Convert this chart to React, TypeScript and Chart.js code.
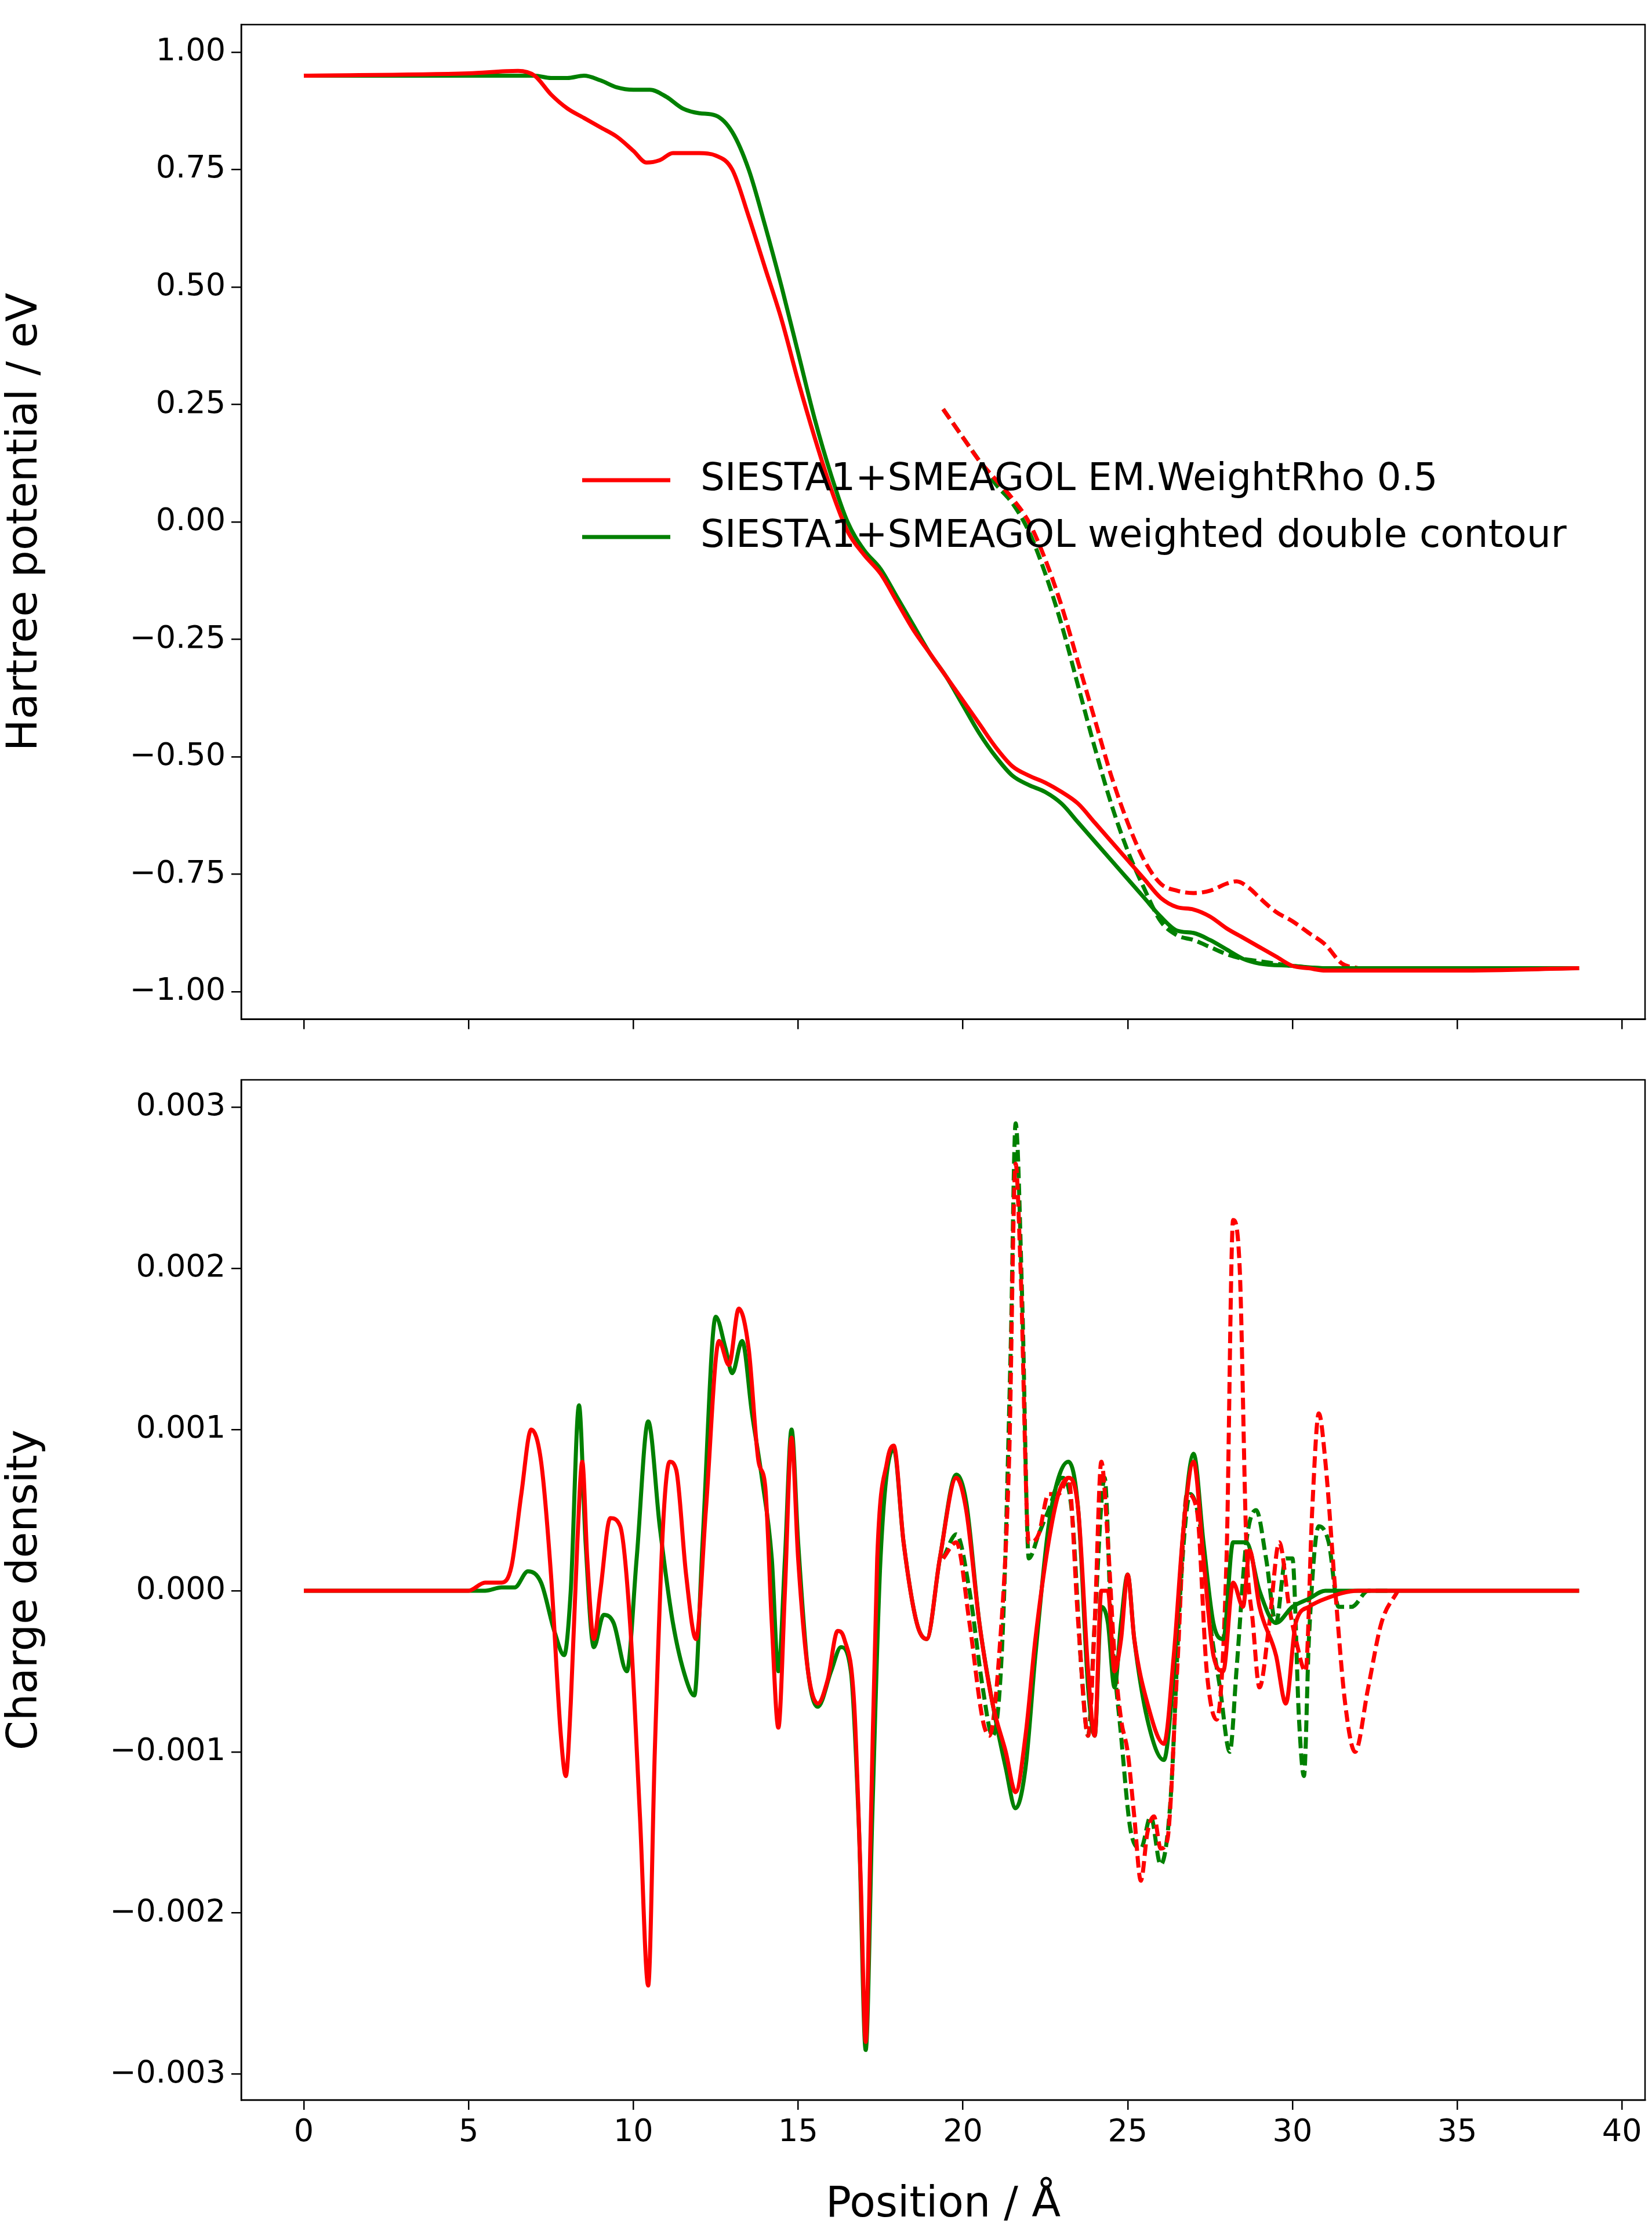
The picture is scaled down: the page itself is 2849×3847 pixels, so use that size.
import React, { useEffect, useRef } from "react";
import { Chart, registerables } from "chart.js";
Chart.register(...registerables);

type P = { x: number; y: number };
const mk = (a: number[][], s = 1): P[] => a.map(([x, y]) => ({ x, y: y * s }));

// Hartree potential (eV)
const redSolidTop = [[0,0.95],[5,0.955],[6.5,0.96],[7,0.95],[7.5,0.91],[8,0.88],[8.5,0.86],[9,0.84],[9.5,0.82],[10,0.79],[10.4,0.765],[10.8,0.77],[11.2,0.785],[12,0.785],[12.5,0.78],[13,0.75],[13.5,0.65],[14,0.54],[14.5,0.43],[15,0.3],[15.5,0.18],[16,0.07],[16.5,-0.02],[17,-0.07],[17.5,-0.11],[18,-0.17],[18.5,-0.23],[19,-0.28],[19.5,-0.33],[20,-0.38],[20.5,-0.43],[21,-0.48],[21.5,-0.52],[22,-0.54],[22.5,-0.555],[23,-0.575],[23.5,-0.6],[24,-0.64],[24.5,-0.68],[25,-0.72],[25.5,-0.76],[26,-0.8],[26.5,-0.82],[27,-0.825],[27.5,-0.84],[28,-0.865],[28.5,-0.885],[29,-0.905],[29.5,-0.925],[30,-0.945],[30.5,-0.95],[31,-0.955],[35,-0.955],[38.7,-0.95]];
const greenSolidTop = [[0,0.95],[7,0.95],[7.5,0.945],[8,0.945],[8.5,0.95],[9,0.94],[9.5,0.925],[10,0.92],[10.5,0.92],[11,0.905],[11.5,0.88],[12,0.87],[12.5,0.865],[13,0.83],[13.5,0.75],[14,0.63],[14.5,0.5],[15,0.36],[15.5,0.22],[16,0.1],[16.5,0],[17,-0.06],[17.5,-0.1],[18,-0.16],[18.5,-0.22],[19,-0.28],[19.5,-0.33],[20,-0.39],[20.5,-0.45],[21,-0.5],[21.5,-0.54],[22,-0.56],[22.5,-0.575],[23,-0.6],[23.5,-0.64],[24,-0.68],[24.5,-0.72],[25,-0.76],[25.5,-0.8],[26,-0.84],[26.5,-0.87],[27,-0.875],[27.5,-0.89],[28,-0.91],[28.5,-0.93],[29,-0.94],[30,-0.945],[31,-0.95],[38.7,-0.95]];
const redDashTop = [[19.4,0.24],[20,0.18],[20.5,0.13],[21,0.09],[21.5,0.05],[22,0],[22.5,-0.08],[23,-0.18],[23.5,-0.3],[24,-0.42],[24.5,-0.54],[25,-0.64],[25.5,-0.72],[26,-0.77],[26.5,-0.785],[27,-0.79],[27.5,-0.785],[28,-0.77],[28.3,-0.765],[28.7,-0.78],[29,-0.8],[29.5,-0.83],[30,-0.85],[30.5,-0.875],[31,-0.9],[31.5,-0.94],[32,-0.95]];
const greenDashTop = [[19.4,0.24],[20,0.18],[20.5,0.13],[21,0.08],[21.5,0.04],[22,-0.02],[22.5,-0.11],[23,-0.22],[23.5,-0.35],[24,-0.48],[24.5,-0.6],[25,-0.7],[25.5,-0.78],[26,-0.85],[26.5,-0.88],[27,-0.89],[27.5,-0.905],[28,-0.92],[28.5,-0.93],[29,-0.935],[30,-0.945],[31,-0.95],[32,-0.95]];

// Charge density (x 0.001)
const redSolidBot = [[0,0],[5,0],[5.5,0.05],[6,0.05],[6.3,0.15],[6.6,0.6],[6.9,1.0],[7.2,0.8],[7.5,0.1],[7.8,-0.9],[7.95,-1.15],[8.1,-0.7],[8.3,0.3],[8.45,0.8],[8.6,0.2],[8.8,-0.3],[9,0],[9.3,0.45],[9.6,0.4],[9.9,-0.2],[10.2,-1.4],[10.45,-2.45],[10.65,-1.0],[10.9,0.4],[11.1,0.8],[11.3,0.75],[11.6,0.1],[11.9,-0.3],[12.2,0.5],[12.6,1.55],[12.9,1.4],[13.2,1.75],[13.5,1.5],[13.8,0.8],[14,0.65],[14.2,-0.2],[14.4,-0.85],[14.6,0],[14.8,0.95],[15,0.2],[15.3,-0.5],[15.6,-0.7],[15.9,-0.55],[16.2,-0.25],[16.4,-0.3],[16.7,-0.7],[16.9,-1.8],[17.05,-2.8],[17.2,-1.5],[17.4,0.2],[17.7,0.8],[17.9,0.9],[18.2,0.3],[18.6,-0.2],[18.9,-0.3],[19.3,0.2],[19.8,0.7],[20.1,0.5],[20.5,-0.2],[20.9,-0.7],[21.3,-1.0],[21.6,-1.25],[21.9,-0.9],[22.2,-0.3],[22.6,0.3],[22.9,0.6],[23.2,0.7],[23.5,0.5],[23.8,-0.5],[24,-0.9],[24.2,0],[24.4,0],[24.6,-0.5],[24.8,-0.3],[25,0.1],[25.2,-0.3],[25.6,-0.7],[26.1,-0.95],[26.4,-0.4],[26.7,0.4],[27,0.8],[27.3,0.2],[27.6,-0.4],[27.9,-0.5],[28.2,0.05],[28.5,-0.1],[28.7,0.25],[29,-0.1],[29.5,-0.4],[29.8,-0.7],[30.1,-0.2],[30.5,-0.1],[31,-0.05],[32,0],[38.7,0]];
const greenSolidBot = [[0,0],[5.5,0],[6,0.02],[6.4,0.02],[6.8,0.12],[7.2,0.05],[7.6,-0.25],[7.9,-0.4],[8.1,0],[8.35,1.15],[8.55,0.3],[8.8,-0.35],[9.1,-0.15],[9.4,-0.2],[9.8,-0.5],[10.1,0.2],[10.45,1.05],[10.8,0.4],[11.2,-0.2],[11.6,-0.55],[11.85,-0.65],[12.1,0.3],[12.5,1.7],[12.8,1.5],[13,1.35],[13.3,1.55],[13.6,1.1],[13.9,0.7],[14.2,0.2],[14.4,-0.5],[14.6,0.2],[14.8,1.0],[15,0.3],[15.3,-0.5],[15.6,-0.72],[16,-0.5],[16.3,-0.35],[16.6,-0.5],[16.85,-1.5],[17.05,-2.85],[17.25,-1.4],[17.5,0.2],[17.9,0.88],[18.2,0.3],[18.6,-0.2],[18.9,-0.3],[19.3,0.2],[19.8,0.72],[20.1,0.55],[20.5,-0.2],[20.9,-0.7],[21.3,-1.1],[21.6,-1.35],[21.9,-1.1],[22.2,-0.4],[22.6,0.4],[22.9,0.7],[23.2,0.8],[23.5,0.5],[23.8,-0.6],[24,-0.9],[24.2,-0.1],[24.4,-0.2],[24.6,-0.6],[24.8,-0.2],[25,0.1],[25.2,-0.3],[25.6,-0.8],[26.1,-1.05],[26.4,-0.5],[26.7,0.4],[27,0.85],[27.3,0.3],[27.6,-0.2],[27.9,-0.3],[28.2,0.3],[28.6,0.3],[29,0],[29.5,-0.2],[30,-0.1],[30.5,-0.05],[31,0],[38.7,0]];
const redDashBot = [[19.4,0.2],[19.8,0.3],[20.2,-0.2],[20.6,-0.8],[20.8,-0.9],[21.1,-0.4],[21.4,0.8],[21.6,2.65],[21.75,2.0],[22,0.3],[22.3,0.35],[22.6,0.6],[22.9,0.6],[23.2,0.7],[23.5,-0.2],[23.8,-0.9],[24,-0.2],[24.2,0.8],[24.4,0.3],[24.6,-0.4],[24.8,-0.8],[25,-1.0],[25.2,-1.4],[25.4,-1.8],[25.6,-1.5],[25.8,-1.4],[26,-1.6],[26.2,-1.55],[26.5,-0.5],[26.8,0.6],[27.1,0.5],[27.4,-0.5],[27.7,-0.8],[28,0.2],[28.2,2.3],[28.4,2.0],[28.6,0.3],[28.8,-0.2],[29,-0.6],[29.3,-0.2],[29.6,0.3],[29.9,-0.1],[30.1,-0.3],[30.4,-0.5],[30.6,0.5],[30.8,1.1],[31,0.8],[31.3,0],[31.6,-0.7],[31.9,-1.0],[32.3,-0.6],[32.7,-0.2],[33.2,0]];
const greenDashBot = [[19.4,0.2],[19.8,0.35],[20.2,0],[20.6,-0.6],[20.9,-0.9],[21.2,-0.3],[21.45,1.5],[21.6,2.9],[21.8,1.8],[22,0.2],[22.3,0.35],[22.6,0.5],[23,0.7],[23.3,0.5],[23.6,-0.5],[23.8,-0.9],[24,-0.2],[24.3,0.7],[24.5,-0.2],[24.8,-0.9],[25.1,-1.5],[25.4,-1.6],[25.7,-1.4],[26,-1.7],[26.3,-1.3],[26.6,0],[26.9,0.6],[27.2,0.4],[27.5,-0.2],[27.8,-0.6],[28.1,-1.0],[28.3,-0.5],[28.6,0.3],[28.9,0.5],[29.2,0.2],[29.5,-0.2],[29.8,0.2],[30,0.2],[30.2,-0.8],[30.35,-1.15],[30.5,-0.3],[30.8,0.4],[31.1,0.3],[31.4,-0.1],[31.8,-0.1],[32.3,0],[33,0]];

const legendLabels = ["SIESTA1+SMEAGOL EM.WeightRho 0.5", "SIESTA1+SMEAGOL weighted double contour"];
const RED = "#ff0000", GREEN = "#008000";
const FONT = "'DejaVu Sans'";
const minus = (s: string) => s.replace("-", "\u2212");

const frame = {
  id: "frame",
  afterDraw(c: any) {
    const { ctx, chartArea: a } = c;
    ctx.save(); ctx.strokeStyle = "#000"; ctx.lineWidth = 2.5;
    ctx.strokeRect(a.left, a.top, a.right - a.left, a.bottom - a.top);
    ctx.restore();
  },
};
const legendPlugin = {
  id: "leg",
  afterDraw(c: any) {
    const ctx = c.ctx;
    ctx.save();
    ctx.font = `66px ${FONT}`; ctx.textBaseline = "middle"; ctx.fillStyle = "#000";
    [[RED, 828], [GREEN, 926]].forEach(([col, y], i) => {
      ctx.strokeStyle = col as string; ctx.lineWidth = 7;
      ctx.beginPath(); ctx.moveTo(1004, y as number); ctx.lineTo(1156, y as number); ctx.stroke();
      ctx.fillText(legendLabels[i], 1208, y as number);
    });
    ctx.restore();
  },
};

const ds = (d: P[], col: string, dash: boolean) => ({
  data: d, borderColor: col, borderWidth: 7, pointRadius: 0, fill: false,
  cubicInterpolationMode: "monotone" as const, borderDash: dash ? [20, 9] : [],
});

function opts(yMin: number, yMax: number, step: number, dec: number, yTitle: string, xAxisH: number, padTop: number, showX: boolean) {
  const tickFont = { family: FONT, size: 54 };
  return {
    animation: false, responsive: false,
    layout: { padding: { top: padTop, right: 12, left: 0, bottom: 0 } },
    plugins: { legend: { display: false }, tooltip: { enabled: false } },
    scales: {
      x: {
        type: "linear", min: -1.9, max: 40.7,
        afterBuildTicks: (ax: any) => { ax.ticks = [0,5,10,15,20,25,30,35,40].map(v => ({ value: v })); },
        afterFit: (ax: any) => { ax.height = xAxisH; },
        grid: { drawOnChartArea: false, drawTicks: true, tickLength: 17, color: "#000", lineWidth: 2.5 },
        border: { display: true, color: "#000", width: 2.5 },
        ticks: { font: tickFont, color: "#000", padding: 8, maxRotation: 0, callback: (v: any) => showX ? String(v) : "" },
        title: { display: showX, text: "Position / Å", font: { family: FONT, size: 73 }, color: "#000", padding: { top: 0, bottom: 0 } },
      },
      y: {
        min: yMin, max: yMax,
        afterBuildTicks: (ax: any) => {
          const t = []; for (let i = Math.ceil(yMin / step - 1e-9); i * step <= yMax + 1e-12; i++) t.push({ value: i * step });
          ax.ticks = t;
        },
        afterFit: (ax: any) => { ax.width = 416; },
        grid: { drawOnChartArea: false, drawTicks: true, tickLength: 17, color: "#000", lineWidth: 2.5 },
        border: { display: true, color: "#000", width: 2.5 },
        ticks: { font: tickFont, color: "#000", padding: 10, callback: (v: any) => minus(Number(v).toFixed(dec)) },
        title: { display: true, text: yTitle, font: { family: FONT, size: 73 }, color: "#000", padding: { top: 0, bottom: 10 } },
      },
    },
  } as any;
}

export default function App() {
  const r1 = useRef<HTMLCanvasElement>(null);
  const r2 = useRef<HTMLCanvasElement>(null);
  useEffect(() => {
    const c1 = new Chart(r1.current!, {
      type: "line",
      data: { datasets: [ds(mk(redSolidTop), RED, false), ds(mk(greenSolidTop), GREEN, false), ds(mk(redDashTop), RED, true), ds(mk(greenDashTop), GREEN, true)] },
      options: opts(-1.0587, 1.0587, 0.25, 2, "Hartree potential / eV", 41, 2, false),
      plugins: [frame, legendPlugin],
    } as any);
    const c2 = new Chart(r2.current!, {
      type: "line",
      data: { datasets: [ds(mk(redSolidBot, 0.001), RED, false), ds(mk(greenSolidBot, 0.001), GREEN, false), ds(mk(redDashBot, 0.001), RED, true), ds(mk(greenDashBot, 0.001), GREEN, true)] },
      options: opts(-0.00316, 0.00317, 0.001, 3, "Charge density", 226, 62, true),
      plugins: [frame],
    } as any);
    return () => { c1.destroy(); c2.destroy(); };
  }, []);
  return (
    <div style={{ position: "absolute", left: 0, top: 0, width: 2849, height: 3847, background: "#fff" }}>
      <canvas ref={r1} width={2849} height={1800} style={{ position: "absolute", left: 0, top: 0, width: 2849, height: 1800 }} />
      <canvas ref={r2} width={2849} height={2047} style={{ position: "absolute", left: 0, top: 1800, width: 2849, height: 2047 }} />
    </div>
  );
}
